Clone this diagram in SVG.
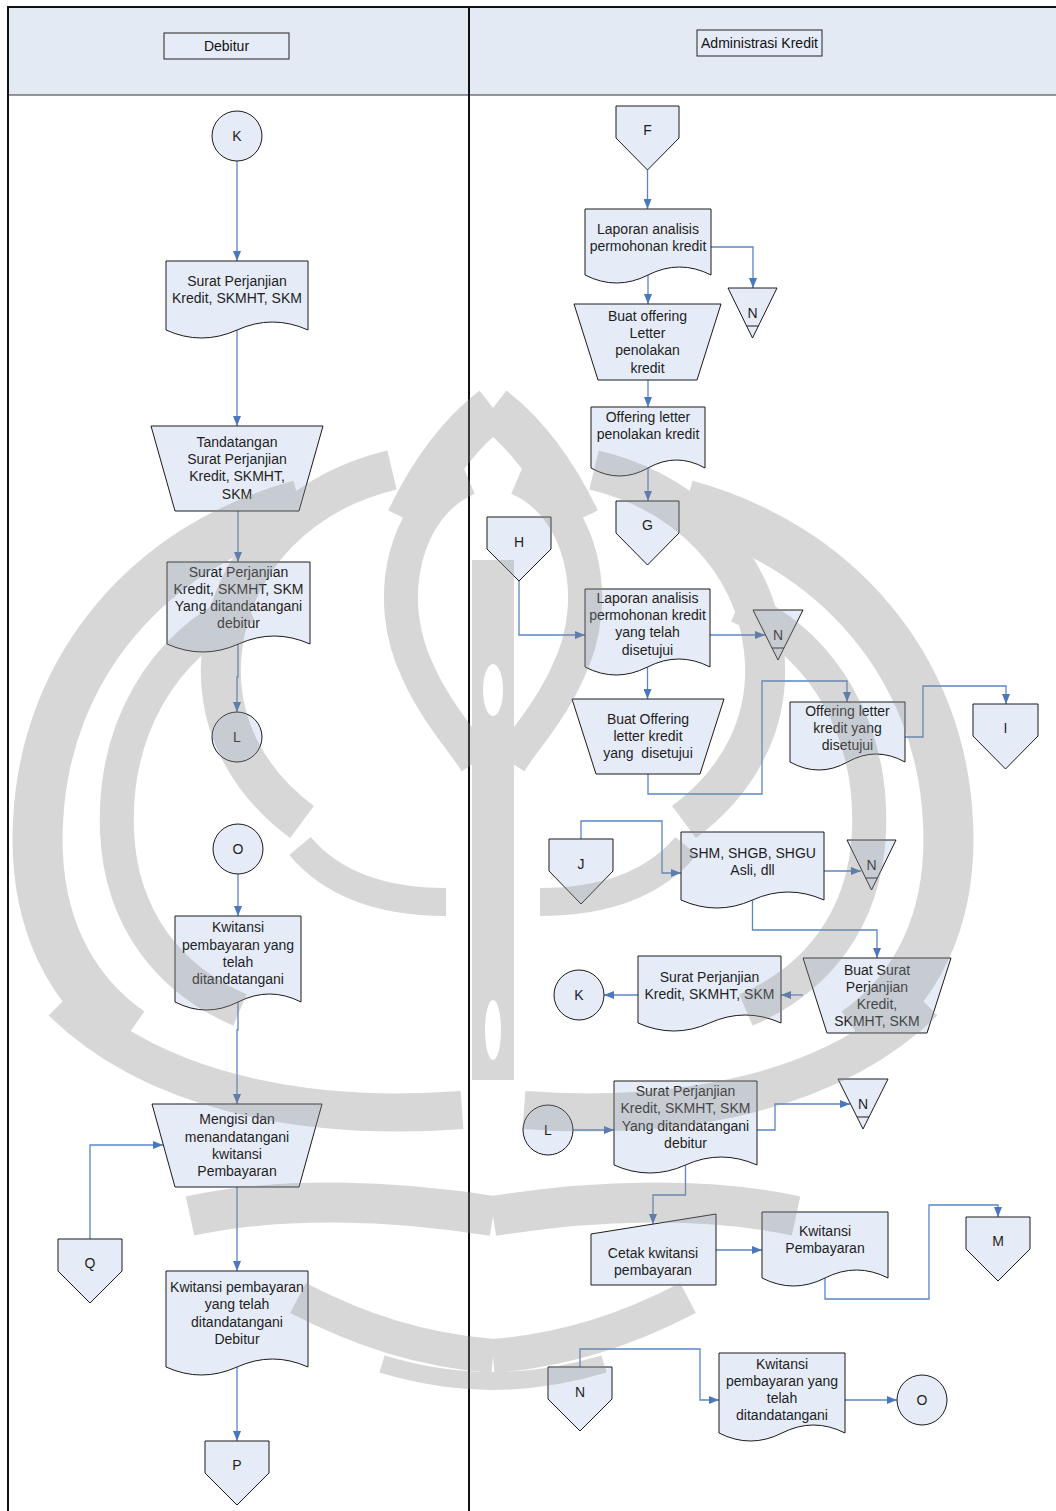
<svg xmlns="http://www.w3.org/2000/svg" width="1056" height="1511" viewBox="0 0 1056 1511">
  <defs>
    <marker id="ah" markerWidth="10" markerHeight="8" refX="10" refY="4" orient="auto" markerUnits="userSpaceOnUse">
      <path d="M0,0 L10,4 L0,8 Z" fill="#4a78bd"/>
    </marker>
    <style>
      .shape { fill: #e6ecf7; stroke: #1a1a1a; stroke-width: 1; }
      .lbl { font-family: "Liberation Sans", Arial, sans-serif; font-size: 14px; fill: #1e1e1e; text-anchor: middle; }
      .hdr { font-family: "Liberation Sans", Arial, sans-serif; font-size: 14px; fill: #111; text-anchor: middle; }
      .conn { fill: none; stroke: #5a86c6; stroke-width: 1.3; }
      .conn.arr { marker-end: url(#ah); }
      .wm { fill: none; stroke: #8c8c8c; stroke-linecap: butt; }
    </style>
  </defs>

  <rect x="0" y="0" width="1056" height="1511" fill="#ffffff"/>

  <!-- swimlane frame -->
  <g id="lanes">
    <rect x="8" y="7" width="1048" height="88" fill="#e4eaf4"/>
    <line x1="8" y1="95" x2="1056" y2="95" stroke="#333" stroke-width="1"/>
    <line x1="7" y1="7" x2="1056" y2="7" stroke="#111" stroke-width="2"/>
    <line x1="8" y1="6" x2="8" y2="1511" stroke="#111" stroke-width="2"/>
    <line x1="469" y1="6" x2="469" y2="1511" stroke="#111" stroke-width="2"/>
    <g id="lane-debitur">
      <rect x="164" y="33" width="125" height="26" fill="#e6ecf7" stroke="#222" stroke-width="1"/>
      <text class="hdr" x="226.5" y="51">Debitur</text>
    </g>
    <g id="lane-admin">
      <rect x="697" y="30" width="125" height="26" fill="#e6ecf7" stroke="#222" stroke-width="1"/>
      <text class="hdr" x="759.5" y="48" textLength="117" lengthAdjust="spacingAndGlyphs">Administrasi Kredit</text>
    </g>
  </g>

  <!-- connectors -->
  <g id="connectors">
    <path class="conn arr" d="M237,161 V261"/>
    <path class="conn arr" d="M237,330 V426"/>
    <path class="conn arr" d="M238,511 V562"/>
    <path class="conn arr" d="M238,644 V677 H237 V712"/>
    <path class="conn arr" d="M238,874 V916"/>
    <path class="conn arr" d="M238,1002 V1030 H237 V1104"/>
    <path class="conn arr" d="M90,1239 V1145 H163"/>
    <path class="conn arr" d="M237,1187 V1271"/>
    <path class="conn arr" d="M237,1367 V1441"/>

    <path class="conn arr" d="M647.5,170 V209"/>
    <path class="conn arr" d="M711,247 H753 V288"/>
    <path class="conn arr" d="M648,275 V304"/>
    <path class="conn arr" d="M648,380 V407"/>
    <path class="conn arr" d="M648,468 V501"/>
    <path class="conn arr" d="M519,581 V635 H585"/>
    <path class="conn arr" d="M710,635 H765"/>
    <path class="conn arr" d="M647.5,667 V699"/>
    <path class="conn arr" d="M648,774 V794 H762 V681 H847 V702"/>
    <path class="conn arr" d="M905,737 H923 V686 H1006 V704"/>
    <path class="conn arr" d="M581,839 V821 H662 V873 H681"/>
    <path class="conn arr" d="M824,871 H861"/>
    <path class="conn arr" d="M752.5,900 V930 H877 V958"/>
    <path class="conn arr" d="M803,995 H781"/>
    <path class="conn arr" d="M638,995 H604"/>
    <path class="conn arr" d="M573,1130 H614"/>
    <path class="conn arr" d="M757,1130 H775 V1104 H850"/>
    <path class="conn arr" d="M685.5,1165 V1195 H653 V1224"/>
    <path class="conn arr" d="M716,1250 H762"/>
    <path class="conn arr" d="M825,1278 V1299 H929 V1205 H998 V1217"/>
    <path class="conn arr" d="M580,1367 V1349 H700 V1400 H719"/>
    <path class="conn arr" d="M845,1400 H897"/>
  </g>

  <!-- Debitur lane -->
  <g id="k-top">
    <circle class="shape" cx="237" cy="136" r="25"/>
    <text class="lbl" x="237" y="141">K</text>
  </g>
  <g id="doc-spk">
    <path class="shape" d="M166,261 H308 V330 Q272.5,314 237,330 Q201.5,346 166,330 Z"/>
    <text class="lbl" x="237" y="286">Surat Perjanjian</text>
    <text class="lbl" x="237" y="303">Kredit, SKMHT, SKM</text>
  </g>
  <g id="op-tandatangan">
    <path class="shape" d="M151,426 H323 L299,511 H175 Z"/>
    <text class="lbl" x="237" y="447">Tandatangan</text>
    <text class="lbl" x="237" y="464">Surat Perjanjian</text>
    <text class="lbl" x="237" y="481">Kredit, SKMHT,</text>
    <text class="lbl" x="237" y="499">SKM</text>
  </g>
  <g id="doc-spk-signed">
    <path class="shape" d="M167,562 H310 V644 Q274,628 238.5,644 Q203,660 167,644 Z"/>
    <text class="lbl" x="238.5" y="577">Surat Perjanjian</text>
    <text class="lbl" x="238.5" y="594">Kredit, SKMHT, SKM</text>
    <text class="lbl" x="238.5" y="611">Yang ditandatangani</text>
    <text class="lbl" x="238.5" y="628">debitur</text>
  </g>
  <g id="l-left">
    <circle class="shape" cx="237" cy="737" r="25"/>
    <text class="lbl" x="237" y="742">L</text>
  </g>
  <g id="o-left">
    <circle class="shape" cx="238" cy="849" r="25"/>
    <text class="lbl" x="238" y="854">O</text>
  </g>
  <g id="doc-kwitansi-ttd">
    <path class="shape" d="M175,916 H301 V1002 Q269.5,986 238,1002 Q206.5,1018 175,1002 Z"/>
    <text class="lbl" x="238" y="932">Kwitansi</text>
    <text class="lbl" x="238" y="950">pembayaran yang</text>
    <text class="lbl" x="238" y="967">telah</text>
    <text class="lbl" x="238" y="984">ditandatangani</text>
  </g>
  <g id="op-mengisi">
    <path class="shape" d="M152,1104 H322 L299,1187 H175 Z"/>
    <text class="lbl" x="237" y="1124">Mengisi dan</text>
    <text class="lbl" x="237" y="1142">menandatangani</text>
    <text class="lbl" x="237" y="1159">kwitansi</text>
    <text class="lbl" x="237" y="1176">Pembayaran</text>
  </g>
  <g id="off-q">
    <path class="shape" d="M58,1239 H122 V1271 L90,1303 L58,1271 Z"/>
    <text class="lbl" x="90" y="1268">Q</text>
  </g>
  <g id="doc-kwitansi-debitur">
    <path class="shape" d="M166,1271 H308 V1367 Q272.5,1351 237,1367 Q201.5,1383 166,1367 Z"/>
    <text class="lbl" x="237" y="1292">Kwitansi pembayaran</text>
    <text class="lbl" x="237" y="1309">yang telah</text>
    <text class="lbl" x="237" y="1327">ditandatangani</text>
    <text class="lbl" x="237" y="1344">Debitur</text>
  </g>
  <g id="off-p">
    <path class="shape" d="M205,1441 H269 V1473 L237,1505 L205,1473 Z"/>
    <text class="lbl" x="237" y="1470">P</text>
  </g>

  <!-- Administrasi Kredit lane -->
  <g id="off-f">
    <path class="shape" d="M616,106 H679 V138 L647.5,170 L616,138 Z"/>
    <text class="lbl" x="647.5" y="135">F</text>
  </g>
  <g id="doc-laporan">
    <path class="shape" d="M585,209 H711 V275 Q679.5,259 648,275 Q616.5,291 585,275 Z"/>
    <text class="lbl" x="648" y="234">Laporan analisis</text>
    <text class="lbl" x="648" y="251">permohonan kredit</text>
  </g>
  <g id="store-n1">
    <path class="shape" d="M728,288 H777 L752.5,338 Z"/>
    <line x1="746.6" y1="326" x2="758.4" y2="326" stroke="#1a1a1a" stroke-width="1"/>
    <text class="lbl" x="752.5" y="318">N</text>
  </g>
  <g id="op-offering-tolak">
    <path class="shape" d="M574,304 H721 L697,380 H598 Z"/>
    <text class="lbl" x="647.5" y="321">Buat offering</text>
    <text class="lbl" x="647.5" y="338">Letter</text>
    <text class="lbl" x="647.5" y="355">penolakan</text>
    <text class="lbl" x="647.5" y="373">kredit</text>
  </g>
  <g id="doc-offering-tolak">
    <path class="shape" d="M591,407 H705 V468 Q676.5,452 648,468 Q619.5,484 591,468 Z"/>
    <text class="lbl" x="648" y="422">Offering letter</text>
    <text class="lbl" x="648" y="439">penolakan kredit</text>
  </g>
  <g id="off-g">
    <path class="shape" d="M616,501 H679 V533 L647.5,565 L616,533 Z"/>
    <text class="lbl" x="647.5" y="530">G</text>
  </g>
  <g id="off-h">
    <path class="shape" d="M487,517 H551 V549 L519,581 L487,549 Z"/>
    <text class="lbl" x="519" y="547">H</text>
  </g>
  <g id="doc-laporan-setuju">
    <path class="shape" d="M585,589 H710 V667 Q679,651 647.5,667 Q616,683 585,667 Z"/>
    <text class="lbl" x="647.5" y="603">Laporan analisis</text>
    <text class="lbl" x="647.5" y="620">permohonan kredit</text>
    <text class="lbl" x="647.5" y="637">yang telah</text>
    <text class="lbl" x="647.5" y="655">disetujui</text>
  </g>
  <g id="store-n2">
    <path class="shape" d="M753,610 H803 L778,660 Z"/>
    <line x1="772" y1="648" x2="784" y2="648" stroke="#1a1a1a" stroke-width="1"/>
    <text class="lbl" x="778" y="640">N</text>
  </g>
  <g id="op-offering-setuju">
    <path class="shape" d="M572,699 H724 L700,774 H596 Z"/>
    <text class="lbl" x="648" y="724">Buat Offering</text>
    <text class="lbl" x="648" y="741">letter kredit</text>
    <text class="lbl" x="648" y="758" xml:space="preserve">yang  disetujui</text>
  </g>
  <g id="doc-offering-setuju">
    <path class="shape" d="M790,702 H905 V762 Q876,746 847.5,762 Q819,778 790,762 Z"/>
    <text class="lbl" x="847.5" y="716">Offering letter</text>
    <text class="lbl" x="847.5" y="733">kredit yang</text>
    <text class="lbl" x="847.5" y="750">disetujui</text>
  </g>
  <g id="off-i">
    <path class="shape" d="M973,704 H1038 V736 L1005.5,769 L973,736 Z"/>
    <text class="lbl" x="1005.5" y="733">I</text>
  </g>
  <g id="off-j">
    <path class="shape" d="M549,839 H613 V871 L581,904 L549,871 Z"/>
    <text class="lbl" x="581" y="869">J</text>
  </g>
  <g id="doc-sertifikat">
    <path class="shape" d="M681,832 H824 V900 Q788,884 752.5,900 Q717,916 681,900 Z"/>
    <text class="lbl" x="752.5" y="858">SHM, SHGB, SHGU</text>
    <text class="lbl" x="752.5" y="875">Asli, dll</text>
  </g>
  <g id="store-n3">
    <path class="shape" d="M847,840 H896 L871.5,890 Z"/>
    <line x1="865.6" y1="878" x2="877.4" y2="878" stroke="#1a1a1a" stroke-width="1"/>
    <text class="lbl" x="871.5" y="870">N</text>
  </g>
  <g id="op-buat-spk">
    <path class="shape" d="M803,958 H951 L927,1033 H827 Z"/>
    <text class="lbl" x="877" y="975">Buat Surat</text>
    <text class="lbl" x="877" y="992">Perjanjian</text>
    <text class="lbl" x="877" y="1009">Kredit,</text>
    <text class="lbl" x="877" y="1026">SKMHT, SKM</text>
  </g>
  <g id="doc-spk-admin">
    <path class="shape" d="M638,956 H781 V1023 Q745,1007 709.5,1023 Q674,1039 638,1023 Z"/>
    <text class="lbl" x="709.5" y="982">Surat Perjanjian</text>
    <text class="lbl" x="709.5" y="999">Kredit, SKMHT, SKM</text>
  </g>
  <g id="k-right">
    <circle class="shape" cx="579" cy="995" r="25"/>
    <text class="lbl" x="579" y="1000">K</text>
  </g>
  <g id="l-right">
    <circle class="shape" cx="548" cy="1130" r="25"/>
    <text class="lbl" x="548" y="1135">L</text>
  </g>
  <g id="doc-spk-signed-admin">
    <path class="shape" d="M614,1081 H757 V1165 Q721,1149 685.5,1165 Q650,1181 614,1165 Z"/>
    <text class="lbl" x="685.5" y="1096">Surat Perjanjian</text>
    <text class="lbl" x="685.5" y="1113">Kredit, SKMHT, SKM</text>
    <text class="lbl" x="685.5" y="1131">Yang ditandatangani</text>
    <text class="lbl" x="685.5" y="1148">debitur</text>
  </g>
  <g id="store-n4">
    <path class="shape" d="M838,1079 H888 L863,1129 Z"/>
    <line x1="857" y1="1117" x2="869" y2="1117" stroke="#1a1a1a" stroke-width="1"/>
    <text class="lbl" x="863" y="1109">N</text>
  </g>
  <g id="input-cetak">
    <path class="shape" d="M591,1234 L716,1214 V1285 H591 Z"/>
    <text class="lbl" x="653" y="1258">Cetak kwitansi</text>
    <text class="lbl" x="653" y="1275">pembayaran</text>
  </g>
  <g id="doc-kwitansi">
    <path class="shape" d="M762,1212 H888 V1278 Q856.5,1262 825,1278 Q793.5,1294 762,1278 Z"/>
    <text class="lbl" x="825" y="1236">Kwitansi</text>
    <text class="lbl" x="825" y="1253">Pembayaran</text>
  </g>
  <g id="off-m">
    <path class="shape" d="M966,1217 H1030 V1249 L998,1281 L966,1249 Z"/>
    <text class="lbl" x="998" y="1246">M</text>
  </g>
  <g id="off-n">
    <path class="shape" d="M548,1367 H612 V1399 L580,1431 L548,1399 Z"/>
    <text class="lbl" x="580" y="1397">N</text>
  </g>
  <g id="doc-kwitansi-ttd-admin">
    <path class="shape" d="M719,1353 H845 V1433 Q813.5,1417 782,1433 Q750.5,1449 719,1433 Z"/>
    <text class="lbl" x="782" y="1369">Kwitansi</text>
    <text class="lbl" x="782" y="1386">pembayaran yang</text>
    <text class="lbl" x="782" y="1403">telah</text>
    <text class="lbl" x="782" y="1420">ditandatangani</text>
  </g>
  <g id="o-right">
    <circle class="shape" cx="922" cy="1400" r="25"/>
    <text class="lbl" x="922" y="1405">O</text>
  </g>

  <!-- faint emblem printed behind the page content -->
  <g id="emblem" opacity="0.34">
    <g id="emblem-half">
      <path class="wm" stroke-width="44" d="M493,408 C462,432 432,470 408,520"/>
      <path class="wm" stroke-width="34" d="M468,478 C405,505 382,598 418,672 C436,712 462,740 476,762"/>
      <path class="wm" stroke-width="40" d="M392,470 C300,492 232,560 222,650 C214,722 248,782 302,822"/>
      <path class="wm" stroke-width="50" d="M300,505 C152,545 45,665 38,822 C33,920 70,990 130,1032"/>
      <path class="wm" stroke-width="34" d="M248,606 C160,645 113,732 117,832 C121,920 170,980 240,1010"/>
      <path class="wm" stroke-width="28" d="M300,846 C332,884 382,902 446,902"/>
      <path class="wm" stroke-width="38" d="M62,1002 C152,1090 300,1122 462,1110"/>
      <path class="wm" stroke-width="40" d="M190,1216 C282,1196 392,1200 493,1216"/>
      <path class="wm" stroke-width="34" d="M298,1298 C360,1330 420,1350 493,1356"/>
      <path class="wm" stroke-width="18" d="M382,1364 C422,1376 460,1381 493,1381"/>
    </g>
    <use href="#emblem-half" transform="translate(986,0) scale(-1,1)"/>
    <rect x="472" y="560" width="42" height="520" fill="#8c8c8c"/>
    <ellipse cx="493" cy="690" rx="10" ry="26" fill="#ffffff"/>
    <ellipse cx="493" cy="1030" rx="8" ry="30" fill="#ffffff"/>
  </g>
</svg>
